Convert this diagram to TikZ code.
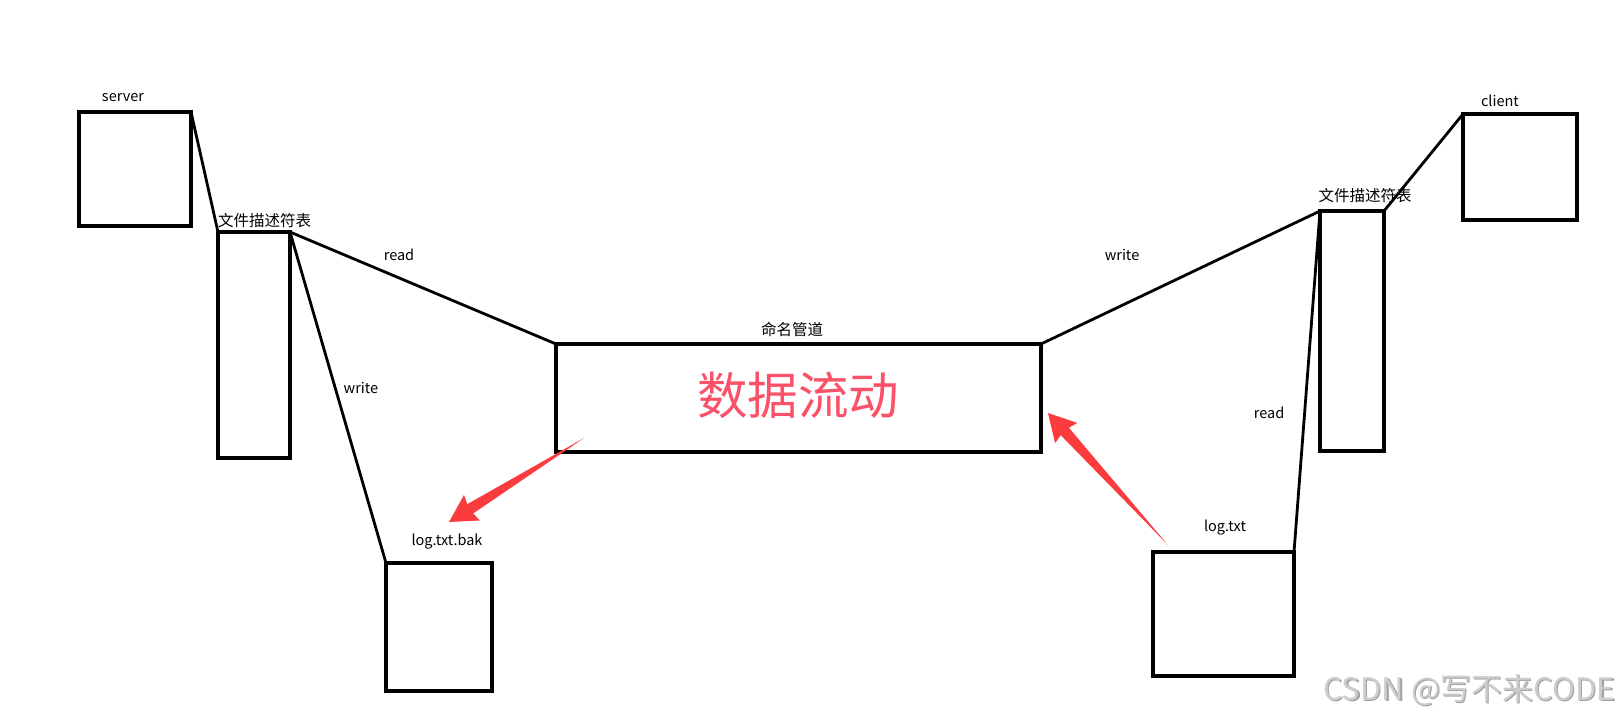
\documentclass[tikz,border=0pt]{standalone}
\usepackage{fontspec}
\setmainfont{Noto Sans CJK SC}
\usetikzlibrary{calc}
\definecolor{arrowred}{RGB}{250,60,62}
\definecolor{bigtext}{RGB}{250,82,104}
\definecolor{wmgray}{RGB}{205,205,205}
\definecolor{wmshadow}{RGB}{160,160,160}
\tikzset{
  boxnode/.style={draw=black,line width=3.4pt,inner sep=0pt,outer sep=0pt,fill=white},
  link/.style={draw=black,line width=2.8pt},
  lbl/.style={inner sep=0pt,font=\fontsize{14.5pt}{16pt}\selectfont},
  cjklbl/.style={inner sep=0pt,font=\fontsize{15.5pt}{17pt}\selectfont},
}
\newcommand{\redarrow}[2]{%
  \fill[arrowred] (#1)
    -- ($($(#2)!25pt!(#1)$)!5.5pt!90:(#2)$)
    -- ($($(#2)!27pt!(#1)$)!15pt!90:(#2)$)
    -- (#2)
    -- ($($(#2)!27pt!(#1)$)!15pt!-90:(#2)$)
    -- ($($(#2)!25pt!(#1)$)!5.5pt!-90:(#2)$)
    -- cycle;}
\begin{document}
\begin{tikzpicture}[x=1pt,y=-1pt]
\useasboundingbox[fill=white] (0,0) rectangle (1619,718);
% boxes
\node[boxnode,minimum width=112pt,minimum height=114pt] (server) at (135,169) {};
\node[boxnode,minimum width=72pt,minimum height=226pt] (fd1) at (254,345) {};
\node[boxnode,minimum width=485pt,minimum height=108pt] (pipe) at (798.5,398) {};
\node[boxnode,minimum width=106pt,minimum height=128pt] (bak) at (439,627) {};
\node[boxnode,minimum width=141pt,minimum height=124pt] (log) at (1223.5,614) {};
\node[boxnode,minimum width=64pt,minimum height=240pt] (fd2) at (1352,331) {};
\node[boxnode,minimum width=114pt,minimum height=106pt] (client) at (1520,167) {};
% connectors
\draw[link] (server.north east) -- (fd1.north west);
\draw[link] (fd1.north east) -- (pipe.north west);
\draw[link] (fd1.north east) -- (bak.north west);
\draw[link] (pipe.north east) -- (fd2.north west);
\draw[link] (log.north east) -- (fd2.north west);
\draw[link] (fd2.north east) -- (client.north west);
% labels
\node[lbl] (tserver) at (123,98) {server};
\node[cjklbl] (tfd1) at (264.5,221) {文件描述符表};
\node[lbl] (tread1) at (399,255) {read};
\node[lbl] (twrite1) at (361,388) {write};
\node[cjklbl] (tpipe) at (792,330) {命名管道};
\node[inner sep=0pt,text=bigtext,font=\fontsize{50.5pt}{53pt}\selectfont] (tflow) at (798,395) {数据流动};
\node[lbl] (tbak) at (447,542) {log.txt.bak};
\node[lbl] (tlog) at (1225,528) {log.txt};
\node[lbl] (twrite2) at (1122,255) {write};
\node[lbl] (tread2) at (1269,413) {read};
\node[cjklbl] (tfd2) at (1365,196) {文件描述符表};
\node[lbl] (tclient) at (1500,101) {client};
% red arrows
\coordinate (a1tail) at (584,438);
\coordinate (a1tip) at (449,522);
\coordinate (a2tail) at (1168,545);
\coordinate (a2tip) at (1048,413);
\redarrow{a1tail}{a1tip}
\redarrow{a2tail}{a2tip}
% watermark
\node[inner sep=0pt,anchor=east,text=wmshadow,font=\fontsize{31pt}{34pt}\selectfont] at (1616.5,691.5) {CSDN @写不来CODE};
\node[inner sep=0pt,anchor=east,text=wmgray,font=\fontsize{31pt}{34pt}\selectfont] (wm) at (1615,690) {CSDN @写不来CODE};
\end{tikzpicture}
\end{document}
